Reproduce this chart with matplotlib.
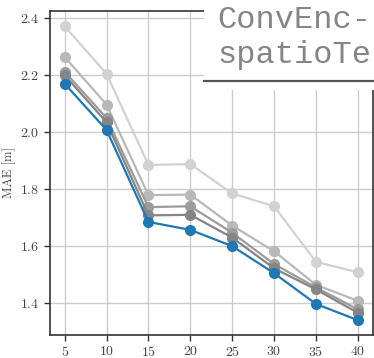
import matplotlib
matplotlib.use("Agg")
import matplotlib.pyplot as plt
from matplotlib.patches import Rectangle
from matplotlib.lines import Line2D

plt.rcParams['font.family'] = ['cmr10', 'DejaVu Serif']
plt.rcParams['mathtext.fontset'] = 'cm'
plt.rcParams['axes.formatter.use_mathtext'] = True

horizons = [5, 10, 15, 20, 25, 30, 35, 40]
mae_lightest = [2.372, 2.205, 1.885, 1.888, 1.785, 1.740, 1.545, 1.508]
mae_light = [2.264, 2.097, 1.779, 1.781, 1.672, 1.582, 1.464, 1.408]
mae_medium = [2.212, 2.050, 1.737, 1.740, 1.647, 1.537, 1.455, 1.378]
mae_dark = [2.200, 2.035, 1.708, 1.710, 1.630, 1.522, 1.448, 1.366]
mae_best = [2.170, 2.008, 1.685, 1.657, 1.600, 1.505, 1.397, 1.340]

series = [
    (mae_lightest, '#d2d2d2'),
    (mae_light, '#b8b8b8'),
    (mae_medium, '#9c9c9c'),
    (mae_dark, '#858585'),
    (mae_best, '#1f77b4'),
]

fig = plt.figure(figsize=(3.74, 3.58), dpi=100)
ax = fig.add_axes([50/374, 23/358, (372.5-50)/374, (335-11)/358])

for vals, col in series:
    ax.plot(horizons, vals, color=col, lw=1.6, marker='o', ms=7, zorder=3)

ax.set_xticks(horizons)
ax.set_yticks([1.4, 1.6, 1.8, 2.0, 2.2, 2.4])
ax.set_xlim(3.25, 41.75)
ax.set_ylim(1.288, 2.4255)
ax.grid(True, color='#cccccc', lw=1.0, zorder=0)
ax.set_axisbelow(True)
for s in ax.spines.values():
    s.set_color('#333333')
    s.set_linewidth(1.2)
ax.tick_params(axis='both', direction='out', length=4, width=1, color='#333333',
               labelsize=10, labelcolor='#444444')
ax.set_ylabel('MAE [m]', fontsize=9, color='#444444', labelpad=3)

# overlapping legend/title box (cut off in the reference)
fig.patches.append(Rectangle((204/374, (358-90)/358), 1, 1, transform=fig.transFigure,
                             facecolor='white', edgecolor='none', zorder=10))
fig.lines.append(Line2D([204/374, 1.0], [(358-80.5)/358]*2, transform=fig.transFigure,
                        color='#555555', lw=1.6, zorder=11))
fig.text(217/374, (358-28)/358, 'ConvEnc-', family='Liberation Mono', fontsize=23,
         color='#858585', va='baseline', ha='left', zorder=12)
fig.text(217/374, (358-63)/358, 'spatioTe', family='Liberation Mono', fontsize=23,
         color='#858585', va='baseline', ha='left', zorder=12)

fig.savefig('out.png', dpi=100)
